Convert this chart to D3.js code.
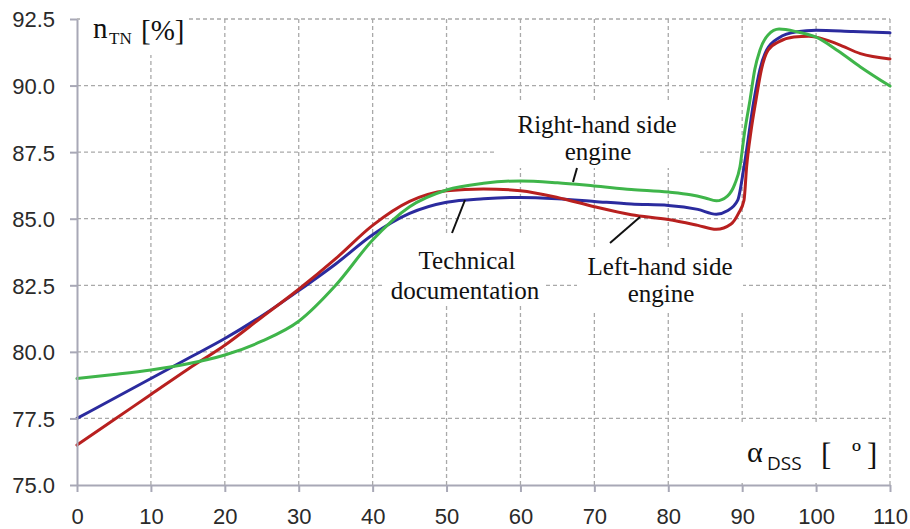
<!DOCTYPE html>
<html>
<head>
<meta charset="utf-8">
<script src="https://cdn.jsdelivr.net/npm/d3@7"></script>
<style>
  html, body { margin: 0; padding: 0; background: #fff; }
  svg { display: block; }
</style>
</head>
<body>
<svg id="chart" width="910" height="529"></svg>
<script>
// Angle of the DSS lever (degrees) and efficiency n_TN (%) for each curve
const techX  = [0, 5, 10, 15, 20, 25, 30, 35, 40, 45, 50, 55, 60, 65, 70, 75, 80, 84, 86.5, 88, 89.4, 90.25, 91.6, 92.4, 93.3, 95, 97.4, 100, 105, 110];
const techY  = [77.5, 78.25, 79.0, 79.75, 80.5, 81.35, 82.3, 83.3, 84.4, 85.2, 85.62, 85.75, 85.8, 85.75, 85.65, 85.55, 85.5, 85.35, 85.17, 85.3, 85.7, 86.95, 89.46, 90.6, 91.33, 91.8, 92.02, 92.08, 92.03, 91.98];

const leftX  = [0, 5, 10, 15, 20, 25, 30, 35, 40, 45, 50, 55, 60, 65, 70, 75, 80, 84, 86.5, 88.5, 89.5, 90.25, 90.6, 91.2, 91.87, 92.6, 93.5, 95, 97, 99, 100, 103, 106, 110];
const leftY  = [76.5, 77.45, 78.4, 79.35, 80.25, 81.3, 82.35, 83.5, 84.75, 85.65, 86.05, 86.12, 86.05, 85.8, 85.45, 85.15, 84.97, 84.75, 84.6, 84.8, 85.2, 85.7, 86.95, 88.3, 89.46, 90.6, 91.33, 91.65, 91.82, 91.85, 91.82, 91.55, 91.2, 91.0];

const rightX = [0, 5, 10, 15, 20, 25, 30, 35, 40, 45, 50, 55, 60, 65, 70, 75, 80, 83, 85, 86.5, 88, 89, 89.7, 90.3, 91.06, 91.7, 92.4, 93.5, 95, 97.4, 100, 103, 106, 110];
const rightY = [79.0, 79.15, 79.32, 79.55, 79.88, 80.4, 81.15, 82.5, 84.2, 85.45, 86.08, 86.33, 86.42, 86.35, 86.23, 86.1, 86.0, 85.9, 85.78, 85.67, 85.85, 86.3, 86.95, 88.2, 89.46, 90.6, 91.33, 91.9, 92.12, 92.02, 91.82, 91.3, 90.7, 89.98];

const xTicks = [0, 10, 20, 30, 40, 50, 60, 70, 80, 90, 100, 110];
const yTicks = [75.0, 77.5, 80.0, 82.5, 85.0, 87.5, 90.0, 92.5];

const series = [
  { name: "Technical documentation", xs: techX,  ys: techY,  color: "#2b2b9e" },
  { name: "Left-hand side engine",   xs: leftX,  ys: leftY,  color: "#b8201f" },
  { name: "Right-hand side engine",  xs: rightX, ys: rightY, color: "#3fb54a" }
];

const svg = d3.select("#chart");
const plot = { left: 77, right: 890, top: 19, bottom: 485 };

const x = d3.scaleLinear().domain([0, 110]).range([plot.left, plot.right]);
const y = d3.scaleLinear().domain([75, 92.5]).range([plot.bottom, plot.top]);

const gridColor = "#a9a9a9";
const axisColor = "#a8a8b6";

// dashed grid
const grid = svg.append("g");
grid.selectAll("line.v").data(xTicks.filter(d => d > 0)).join("line")
  .attr("x1", d => x(d)).attr("x2", d => x(d))
  .attr("y1", y(92.5)).attr("y2", y(75))
  .attr("stroke", gridColor).attr("stroke-width", 1.3).attr("stroke-dasharray", "4,3");
grid.selectAll("line.h").data(yTicks.filter(d => d > 75)).join("line")
  .attr("x1", x(0)).attr("x2", x(110))
  .attr("y1", d => y(d)).attr("y2", d => y(d))
  .attr("stroke", gridColor).attr("stroke-width", 1.3).attr("stroke-dasharray", "4,3");

// white panels behind the labels
const panels = [
  [80, 12, 107, 43],
  [495, 103, 205, 65],
  [385, 235, 160, 68],
  [577, 250, 166, 63],
  [738, 425, 148, 58]
];
svg.append("g").selectAll("rect").data(panels).join("rect")
  .attr("x", d => d[0]).attr("y", d => d[1])
  .attr("width", d => d[2]).attr("height", d => d[3])
  .attr("fill", "#fff");

// curves
const line = d3.line()
  .x(d => x(d[0])).y(d => y(d[1]))
  .curve(d3.curveMonotoneX);

svg.append("g").selectAll("path").data(series).join("path")
  .attr("d", s => line(s.xs.map((v, i) => [v, s.ys[i]])))
  .attr("fill", "none")
  .attr("stroke", s => s.color)
  .attr("stroke-width", 3)
  .attr("stroke-linejoin", "round")
  .attr("stroke-linecap", "round");

// axes
const yAxis = d3.axisLeft(y).tickValues(yTicks).tickFormat(d3.format(".1f"))
  .tickSize(7).tickSizeOuter(0).tickPadding(15);
const xAxis = d3.axisBottom(x).tickValues(xTicks).tickFormat(d3.format("d"))
  .tickSize(7).tickSizeOuter(0);

const gy = svg.append("g").attr("transform", `translate(${plot.left},0)`).call(yAxis);
const gx = svg.append("g").attr("transform", `translate(0,${plot.bottom})`).call(xAxis);

[gx, gy].forEach(g => {
  g.select(".domain").attr("stroke", axisColor).attr("stroke-width", 2);
  g.selectAll(".tick line").attr("stroke", axisColor).attr("stroke-width", 2);
  g.selectAll(".tick text")
    .attr("fill", "#2a2a2a")
    .style("font-family", "'Liberation Sans', Arial, sans-serif")
    .style("font-size", "22px");
});
gy.selectAll(".tick text").attr("dy", "0.36em");
gx.selectAll(".tick text").attr("y", 39).attr("dy", 0);

// leader lines from labels to curves
const leaders = [
  [577, 168, 573, 182],
  [452, 233, 465, 200],
  [610, 243, 640, 217]
];
svg.append("g").selectAll("line").data(leaders).join("line")
  .attr("x1", d => d[0]).attr("y1", d => d[1])
  .attr("x2", d => d[2]).attr("y2", d => d[3])
  .attr("stroke", "#111").attr("stroke-width", 2);

// curve labels
const serif = "'Liberation Serif', 'Times New Roman', serif";
const labels = [
  ["Right-hand side", 597, 133],
  ["engine", 598, 160],
  ["Technical", 467, 269],
  ["documentation", 465, 299],
  ["Left-hand side", 660, 275],
  ["engine", 661, 302]
];
svg.append("g").selectAll("text").data(labels).join("text")
  .attr("x", d => d[1]).attr("y", d => d[2])
  .attr("text-anchor", "middle")
  .style("font-family", serif).style("font-size", "25px")
  .attr("fill", "#111")
  .text(d => d[0]);

// axis titles
const yt = svg.append("g").style("font-family", serif).attr("fill", "#111");
yt.append("text").attr("x", 93).attr("y", 38).style("font-size", "29px").text("n");
yt.append("text").attr("x", 109).attr("y", 44).style("font-size", "17px").text("TN");
yt.append("text").attr("x", 141).attr("y", 40).style("font-size", "29px").text("[%]");

const xt = svg.append("g").attr("fill", "#111");
xt.append("text").attr("x", 747).attr("y", 462).style("font-family", serif).style("font-size", "30px").text("α");
xt.append("text").attr("x", 767).attr("y", 470).style("font-family", "'Open Sans', 'Liberation Sans', sans-serif").style("font-size", "19px").text("DSS");
xt.append("text").attr("x", 821).attr("y", 465).style("font-family", serif).style("font-size", "31px").text("[");
xt.append("text").attr("x", 852).attr("y", 462).style("font-family", serif).style("font-size", "29px").text("º");
xt.append("text").attr("x", 867).attr("y", 465).style("font-family", serif).style("font-size", "31px").text("]");
</script>
</body>
</html>
